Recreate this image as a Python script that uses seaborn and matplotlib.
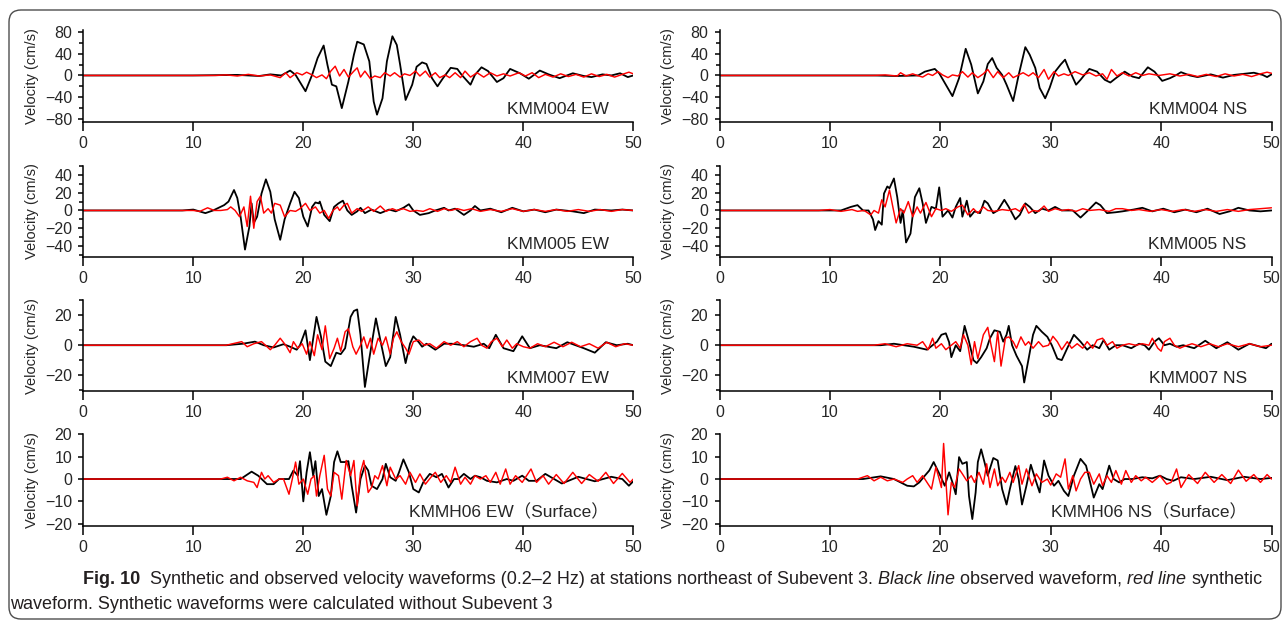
import numpy as np
import pandas as pd
import matplotlib
matplotlib.use("Agg")
import matplotlib.pyplot as plt
import seaborn as sns
from matplotlib.patches import FancyBboxPatch
from matplotlib.ticker import MultipleLocator
from matplotlib.transforms import IdentityTransform

sns.set_style("ticks")
plt.rcParams['font.family'] = ['Liberation Sans', 'Noto Sans CJK JP', 'DejaVu Sans']
plt.rcParams['axes.unicode_minus'] = True

# ---- waveforms: (time [s], velocity [cm/s]) ----
obs_004_ew = [(0, 0), (10, 0), (14, 1), (16, -1), (17, 2), (18, 0), (18.8, 9), (19.3, 1), (20.2, -29), (20.8, 1),
              (21.3, 32), (21.85, 55), (22.2, 19), (22.6, -17), (23.0, -20), (23.5, -60), (24.1, -11), (24.6, 38),
              (24.9, 62), (25.5, 57), (26.0, 26), (26.4, -48), (26.7, -72), (27.2, -42), (27.6, 26), (28.1, 72),
              (28.5, 56), (28.8, 20), (29.3, -45), (29.9, -17), (30.3, 16), (30.8, 24), (31.2, 21), (31.7, -5),
              (32.2, -20), (32.7, -5), (33.4, 14), (34.0, 12), (34.4, 1), (35.2, -17), (35.6, 1), (36.2, 15),
              (36.8, 8), (37.6, -12), (38.2, -5), (38.8, 12), (39.7, 4), (40.5, -6), (41.5, 9), (42.3, 2),
              (43.3, -5), (44.5, 4), (45.5, -1), (46.2, -3), (47.2, 2), (48, 0), (48.8, 4), (49.5, -3), (50, 0)]
syn_004_ew = [(0, 0), (12, 0), (13, 1), (14, -1), (15, 2), (16, -1), (17, 1), (17.9, -4), (18.4, 5), (18.8, -4),
              (19.4, 5), (19.9, 1), (20.3, 6), (20.8, 1), (21.2, -4), (21.7, 1), (22.1, -6), (22.5, 8), (22.9, 17),
              (23.3, -1), (23.7, 11), (24.1, -3), (24.6, 8), (24.9, 14), (25.2, -3), (25.6, 8), (26.1, -6),
              (26.5, -1), (27.0, -4), (27.4, 5), (27.9, -1), (28.3, 5), (28.8, -3), (29.2, 3), (29.7, 0), (30.2, 8),
              (30.6, -1), (31.1, 8), (31.5, -3), (32.0, 5), (32.4, -4), (32.9, 1), (33.3, -4), (33.8, 5), (34.3, -4),
              (34.7, 8), (35.2, -3), (35.8, 5), (36.4, -3), (37.0, 5), (37.6, -1), (38.2, 3), (38.8, -1), (39.6, 5),
              (40.2, -1), (40.8, 5), (41.4, -4), (42.0, 2), (42.7, -3), (43.4, 3), (44.1, -2), (44.8, 2), (45.5, -3),
              (46.2, 3), (46.9, -2), (47.6, 2), (48.3, -3), (49.0, 2), (49.6, 6), (50, 3)]

obs_004_ns = [(0, 0), (14, 0), (16, -1), (18, 0), (18.6, 7), (19.5, 12), (19.9, 4), (20.5, -17), (21.1, -38),
              (21.7, -5), (22.3, 49), (22.8, 20), (23.4, -33), (23.9, -11), (24.3, 21), (24.7, 32), (25.1, 14),
              (25.6, 1), (26.0, -17), (26.6, -47), (27.1, 1), (27.7, 52), (28.1, 38), (28.6, 14), (29.0, -23),
              (29.5, -42), (29.9, -23), (30.4, 7), (30.9, 20), (31.3, 29), (31.6, 14), (32.3, -17), (32.7, -8),
              (33.5, 12), (34.2, 7), (34.9, -8), (35.4, -13), (35.9, -5), (36.7, 7), (37.4, -2), (38.0, -5),
              (38.8, 15), (39.4, 7), (40.1, -10), (40.8, -5), (41.4, 1), (41.8, 6), (42.6, 0), (43.3, -3),
              (44.5, 2), (45.6, -4), (46.6, 1), (47.5, 3), (48.4, 5), (49.2, 1), (49.6, -3), (50, 2)]
syn_004_ns = [(0, 0), (14, 0), (15, 1), (16.1, -1), (16.4, 5), (16.9, -1), (17.5, 3), (17.9, 0), (18.4, -3),
              (18.9, 3), (19.3, 0), (19.8, 7), (20.2, 1), (20.7, -4), (21.1, 1), (21.6, -1), (22.0, 7), (22.5, -3),
              (22.9, 5), (23.4, -4), (23.9, 3), (24.3, 11), (24.8, -4), (25.2, 7), (25.7, -4), (26.2, 5), (26.6, -4),
              (27.1, 1), (27.5, 5), (28.0, -1), (28.4, 5), (28.9, -4), (29.4, 11), (29.8, -7), (30.3, 7), (30.7, -1),
              (31.2, 3), (31.6, 0), (32.2, 7), (32.9, 1), (33.5, 5), (34.1, -1), (34.7, 3), (35.1, -7), (35.5, 11),
              (36.0, -1), (36.5, 5), (37.1, -1), (37.7, 5), (38.3, 0), (38.9, 3), (39.8, 0), (40.8, 3), (41.7, -1),
              (42.5, 2), (43.3, -2), (44.1, 2), (45.0, -2), (45.8, 3), (46.6, -1), (47.4, 2), (48.2, -2), (49.0, 3),
              (49.6, 6), (50, 4)]

obs_005_ew = [(0, 0), (9, 0), (10, 1), (11.1, -3), (11.8, 0), (12.8, 6), (13.2, 10), (13.7, 23), (14.0, 14),
              (14.3, -7), (14.7, -44), (15.1, -18), (15.3, 8), (15.5, -14), (15.8, -7), (16.2, 19), (16.6, 35),
              (17.0, 21), (17.4, -10), (17.9, -33), (18.3, -10), (18.8, 8), (19.2, 21), (19.6, 14), (20.0, -7),
              (20.4, -18), (20.8, 4), (21.1, 9), (21.4, 8), (21.5, 10), (21.9, -5), (22.4, -12), (22.8, 4),
              (23.2, 8), (23.6, 11), (24.0, 0), (24.4, -5), (24.9, -1), (25.2, 3), (25.6, -3), (26.2, 1), (27.0, -3),
              (27.8, 1), (28.4, -1), (29.1, 3), (29.6, 7), (30.0, 0), (30.6, -5), (31.4, -3), (32.0, 0), (32.8, 3),
              (33.2, 0), (33.8, 2), (34.6, -5), (35.2, 0), (35.6, 5), (36.1, 0), (37, 2), (38, -2), (39, 3),
              (40, -1), (41, 1), (42, -2), (43, 1), (44.5, -1), (45.5, -3), (46.5, 1), (48, 0), (49, 1), (50, 0)]
syn_005_ew = [(0, 0), (10, 0), (10.6, -1), (11.3, 3), (11.9, 0), (12.5, 0), (13.1, 1), (13.4, 4), (13.8, 0),
              (14.2, -7), (14.6, 4), (14.9, -18), (15.2, 16), (15.5, -20), (15.8, 10), (16.1, 16), (16.4, -3),
              (16.8, 2), (17.1, -3), (17.4, 8), (17.9, 6), (18.3, -7), (18.8, 0), (19.3, -1), (19.7, 2), (20.2, 8),
              (20.6, 0), (21.1, 4), (21.5, -3), (21.9, 0), (22.3, -9), (22.7, 0), (23.1, 4), (23.3, 0), (23.7, 6),
              (24.0, 8), (24.4, -3), (24.9, 2), (25.3, -1), (25.9, 4), (26.4, -1), (27.0, 5), (27.5, -1), (28.1, 2),
              (28.5, 0), (29.1, 2), (29.7, -1), (30.3, 0), (30.9, -1), (31.5, 2), (32.2, -1), (32.8, 2), (33.4, 0),
              (34.0, 2), (34.6, 0), (35.3, 2), (36.1, -1), (37, 1), (38, -1), (39, 2), (40, -1), (41, 1), (42, -1),
              (43, 1), (44, -1), (45, 1), (46, -1), (47, 1), (48, -1), (49, 1), (50, 0)]

obs_005_ns = [(0, 0), (9, 0), (11, 0), (11.9, 4), (12.5, 6), (13.0, 0), (13.5, 0), (13.9, -10), (14.1, -22),
              (14.4, -12), (14.7, -16), (14.9, 19), (15.2, 27), (15.4, 25), (15.8, 36), (16.1, 15), (16.4, -14),
              (16.6, 0), (16.9, -36), (17.3, -26), (17.7, 15), (18.1, 25), (18.4, 8), (18.7, -14), (19.2, 4),
              (19.6, 2), (19.9, 26), (20.2, -7), (20.7, 0), (21.1, -8), (21.4, 4), (21.8, 14), (22.0, -7),
              (22.4, 11), (22.7, -7), (23.1, -1), (23.6, -3), (24.0, 11), (24.3, 8), (24.8, -3), (25.2, 0),
              (25.8, 12), (26.2, 4), (26.8, -10), (27.2, -5), (27.7, 8), (28.1, 4), (28.6, -3), (29.2, 2), (29.8, 0),
              (30.4, 4), (31.0, 0), (32.0, 0), (32.7, -8), (33.3, -1), (34.1, 9), (34.5, 6), (35.1, -3), (35.9, -2),
              (36.5, -1), (37.5, 1), (38.3, 3), (39.2, -1), (40.2, 2), (41.2, -2), (42.2, 1), (43.2, -2), (44.2, 2),
              (45.3, -4), (46.2, -1), (47, 3), (48, 0), (49, -1), (50, 0)]
syn_005_ns = [(0, 0), (9, 0), (10, 1), (11, -1), (12, 1), (12.5, -1), (13.1, 0), (13.7, -5), (14.0, 0), (14.4, -3),
              (14.7, 12), (15.0, 4), (15.4, 23), (15.7, 4), (16.0, -14), (16.4, 2), (16.7, -3), (17.1, 10),
              (17.5, -7), (17.9, 4), (18.2, -3), (18.7, 9), (19.2, -7), (19.6, 2), (20.1, 0), (20.5, 2), (21.0, -1),
              (21.6, 4), (22.0, 6), (22.5, -5), (23.0, 2), (23.4, -3), (23.9, 4), (24.3, 0), (24.9, -1), (25.6, 1),
              (26.2, 0), (26.8, 2), (27.2, -1), (27.6, 7), (28.0, -3), (28.4, 0), (28.9, -1), (29.4, 5), (29.8, -1),
              (30.4, 2), (31.0, 0), (31.6, 1), (32.3, -1), (32.9, 2), (33.5, 0), (34.4, 1), (35.3, -1), (35.9, 2),
              (36.5, 2), (37.3, 0), (38, 1), (39, -1), (40, 1), (41, -1), (42, 1), (43, -1), (44, 1), (45, -1),
              (46, 1), (47, -1), (48, 1), (49, 2), (50, 3)]

obs_007_ew = [(0, 0), (13, 0), (14.5, 1), (15.6, 2.4), (16.4, 0), (17.3, -1.5), (18.2, 0.7), (18.8, -1), (19.4, -3),
              (19.7, 0), (20.2, 10), (20.6, -10), (21.2, 19), (21.6, 6), (22.0, -11), (22.5, -14), (23.0, -5),
              (23.4, -6), (23.8, -2), (24.3, 19), (24.6, 23), (24.9, 24), (25.2, 7), (25.6, -28), (26.0, -9),
              (26.6, 18), (27.1, 0), (27.5, -14), (27.9, -8), (28.4, 19), (28.8, 7), (29.3, -12), (29.7, 1),
              (30.0, 6), (30.5, 2), (30.8, -1), (31.2, 1), (32.0, -3), (32.8, 1), (33.5, 1), (34.6, 0), (35.5, -1),
              (36.4, 1), (36.9, -2), (37.5, 7), (38.2, -2), (39.1, -4), (39.9, 6), (40.6, -2), (41.5, 0), (43, -2),
              (44, 2), (45.5, -2), (46.5, -5), (47.5, 2), (48.5, 0), (49.5, 1), (50, 0)]
syn_007_ew = [(0, 0), (13, 0), (14.4, 2.4), (14.9, -1), (15.5, 1), (16.2, 2.4), (17.0, -3), (17.4, 0), (17.9, 4.7),
              (18.4, 0), (18.8, -5), (19.1, 2.4), (19.5, -2), (19.9, 1), (20.3, -6), (20.6, 2.4), (21.0, -7),
              (21.3, 7), (21.7, -3), (22.0, 13), (22.4, -9), (22.8, -2), (23.1, 4.7), (23.4, -4), (23.8, 9),
              (24.1, 11), (24.5, -1), (24.8, -6), (25.2, 0), (25.5, 5.6), (25.8, -2), (26.1, 4.7), (26.4, -6),
              (26.8, 4.7), (27.2, 0), (27.5, 5.6), (27.9, -6), (28.2, 4.7), (28.5, 9), (28.9, 2.4), (29.3, -2),
              (29.6, -6), (30.0, 2.4), (30.5, 3.5), (31.0, 0), (31.5, 1), (32.1, -2), (32.8, 2.4), (33.4, 0),
              (34.0, 2.4), (34.6, -1), (35.2, 2.4), (35.8, 4.7), (36.2, 0), (36.7, -2), (37.1, 2.4), (37.6, 4.7),
              (38.1, -1), (38.5, 3.5), (39.0, -2), (39.4, 1), (40.0, -1), (40.6, -2), (41.3, 1), (42, -1),
              (42.8, 2), (43.6, -1), (44.4, 2), (45.2, -1), (46, 1), (46.8, -2), (47.6, 2), (48.4, -1), (49.2, 1),
              (50, 0)]

obs_007_ns = [(0, 0), (14.6, 0), (15.8, 1), (17.6, -1), (18.8, -3), (19.7, 2.4), (20.1, 7), (20.5, 8), (20.8, 2),
              (21.0, -8), (21.4, 0), (21.8, -4), (22.2, 13), (22.6, 2.4), (23.0, -10), (23.3, -12), (23.7, -8),
              (24.2, -2), (24.5, 4.7), (24.9, 10), (25.4, 9), (25.7, 2.4), (26.0, 7), (26.2, 13), (26.5, 0),
              (26.9, -7), (27.4, -14), (27.6, -25), (28.0, -9), (28.4, 7), (28.7, 13), (29.2, 9), (29.7, 5.6),
              (30.1, 0), (30.6, -9), (31.0, -10), (31.5, -2), (32.1, 7), (32.7, 2.4), (33.3, -3), (33.8, 0),
              (34.4, -2), (34.8, 3.5), (35.3, -3), (35.9, 0), (36.5, 0), (37.3, -2), (38.0, 1), (38.5, 0),
              (38.9, -3), (39.4, 2.4), (39.8, 4.7), (40.3, 0), (40.8, 1), (41.4, -1), (42.0, 0), (43, -2), (44, 3),
              (45, -2), (46, 2), (47, -3), (48, 1), (49.5, -2), (50, 1)]
syn_007_ns = [(0, 0), (14, 0), (15, 1), (16, -1), (17, 1), (17.9, 0), (18.4, 2.4), (18.9, -3), (19.3, 4.7),
              (19.6, -2), (20.1, 1), (20.5, -3), (21.0, 0), (21.4, 2.4), (21.8, -2), (22.1, 7), (22.5, 0),
              (22.8, -13), (23.1, 2.4), (23.4, -9), (23.9, 7), (24.3, 12), (24.6, 0), (24.9, -11), (25.2, 9),
              (25.5, -14), (25.9, 4.7), (26.2, 5.6), (26.6, 2.4), (26.9, -2), (27.3, 5.6), (27.7, 0), (28.0, 2.4),
              (28.4, -2), (28.9, 2.4), (29.3, -1), (29.8, 0), (30.2, 6), (30.6, 2.4), (31.0, -3), (31.5, 2.4),
              (31.9, -2), (32.4, 1), (32.9, -2), (33.3, 2.4), (33.8, -2), (34.2, 3.5), (34.7, 4.7), (35.1, 0),
              (35.6, 2.4), (36.0, -2), (36.5, 0), (37.1, 1), (37.7, 0), (38.3, 1), (38.9, 0), (39.2, 4.7),
              (39.7, -2), (40.0, -4), (40.3, 2.4), (40.8, 4.7), (41.2, 0), (41.7, -2), (42.0, -1), (42.8, 1),
              (43.6, -1), (44.4, 1), (45.2, -1), (46, 1), (47, -1), (48, 1), (49, -1), (50, 0)]

obs_h06_ew = [(0, 0), (12, 0), (14.3, 0), (15.3, 3.3), (15.9, 1.5), (16.7, -2.3), (17.3, -2.3), (17.8, 0),
              (18.7, 0), (19.1, 3.8), (19.5, 1.5), (19.7, 8), (20.0, -10), (20.3, 3), (20.6, 12), (20.9, 1.5),
              (21.1, 8), (21.4, -7.6), (21.7, -4.5), (22.1, -16), (22.5, -7.6), (22.8, 7.6), (23.1, 12.4),
              (23.4, 7.6), (23.8, 7.6), (24.1, 8), (24.4, -3), (24.8, -15), (25.2, 0), (25.6, 6), (25.9, 3.8),
              (26.2, -3), (26.7, -4.5), (27.2, 0), (27.5, 6.8), (27.9, 0.8), (28.4, -0.8), (28.7, 3), (29.1, 8.8),
              (29.6, 3), (30.0, -4.5), (30.5, -6), (30.9, -1.5), (31.5, 2.3), (32.1, 0.8), (32.6, 2.3), (33.2, -3.8),
              (33.7, 0), (34.1, 0), (34.6, 2.3), (35.2, 0), (35.6, 1.5), (36.1, 0.8), (36.7, -0.8), (37.6, -1.5),
              (38.5, 0), (39.1, -0.8), (39.9, 1.5), (40.5, -0.8), (41.2, -0.8), (42.0, 2.3), (43.5, -2), (45, 1),
              (46.5, -1), (48, 1), (49, 0), (49.6, -3), (50, -1)]
syn_h06_ew = [(0, 0), (12.5, 0), (13.1, 0.8), (13.7, -0.8), (14.3, 0.8), (14.9, -0.8), (15.5, -1.5), (15.8, -3.8),
              (16.2, 3), (16.5, 0), (16.8, 1.5), (17.3, -1.5), (17.8, 0), (18.2, 0), (18.7, -6.8), (19.0, 0),
              (19.3, 7.6), (19.6, -2.3), (20.0, 0), (20.4, -6.8), (20.7, 0), (21.0, 1.5), (21.2, -7.6), (21.5, 1.5),
              (21.9, 10.6), (22.2, -4.5), (22.5, -7.6), (22.8, 3), (23.2, 1.5), (23.5, -9), (23.9, 8.3), (24.3, 1.5),
              (24.6, 8.3), (24.9, -12), (25.2, 3), (25.5, 8.3), (25.9, -6), (26.2, -3.8), (26.5, 1.5), (26.8, 0),
              (27.2, 6), (27.6, -3), (27.9, 5.3), (28.4, 0), (28.8, 1.5), (29.3, -2.3), (29.7, 3), (30.2, -1.5),
              (30.6, 2.3), (31.1, -2.3), (31.6, 0.8), (32.0, 3), (32.5, -1.5), (33.0, 1.5), (33.4, -1.5), (33.8, 5.3),
              (34.3, -2.3), (34.7, 0.8), (35.2, -2.3), (35.6, 1.5), (36.1, 0), (36.6, 1.5), (37.0, -1.5), (37.5, 3),
              (37.9, -2.3), (38.4, 4.5), (38.8, -2.3), (39.3, 1.5), (39.9, -1.5), (40.7, 4.5), (41.2, -1.5),
              (41.8, 1.5), (42.3, -2.3), (43, 2), (43.7, -2), (44.5, 3), (45.3, -2), (46, 2), (46.8, -1), (47.5, 3),
              (48.2, -2), (49, 2.5), (49.7, -1.5), (50, 0)]

obs_h06_ns = [(0, 0), (13, 0), (14.6, 1.2), (15.8, 0), (17.0, -3), (17.6, -3.3), (18.1, -1.5), (18.6, 1.5),
              (19.0, 3.8), (19.4, 7.6), (19.7, 4.5), (20.0, 1.5), (20.4, -3), (20.8, 3), (21.1, -1.5), (21.4, -6.8),
              (21.7, 9.8), (22.0, 6.8), (22.4, 7.6), (22.6, -7.6), (22.9, -17.9), (23.2, -6), (23.4, 7.6),
              (23.7, 13.3), (24.0, 7.6), (24.3, 1.5), (24.8, 9.4), (25.2, 8.3), (25.6, -4.5), (26.0, -11.4),
              (26.3, -4.5), (26.8, 5.8), (27.1, 0), (27.4, -11.4), (27.8, -3), (28.2, 6.4), (28.6, 0), (29.0, -6),
              (29.4, 8.3), (29.8, 1.5), (30.3, -3), (30.7, -0.8), (31.2, -5.3), (31.6, -7.6), (32.1, 1.5), (32.7, 9),
              (33.2, 6), (33.5, 0), (33.9, -8.3), (34.4, -2.3), (34.7, -4.5), (35.3, 6), (35.7, 0), (36.2, -1.5),
              (36.7, 0), (37.4, 0), (38.3, 0.8), (39.2, 0.3), (39.9, 1.5), (40.5, 0), (41.1, -0.8), (41.8, 0.8),
              (43, 0), (44.5, 1), (46, -0.5), (47.5, 1), (49, 0), (50, 0.5)]
syn_h06_ns = [(0, 0), (12.5, 0), (13.4, 1.5), (14.0, -0.8), (14.6, 0.8), (15.2, -0.8), (15.8, 0), (16.6, -1.5),
              (17.0, 0), (17.5, 1.5), (17.9, -1.5), (18.4, 1.5), (18.9, -2.3), (19.2, -4.5), (19.6, 5.3), (19.9, 0),
              (20.1, -3.8), (20.3, 15.9), (20.7, -16), (21.0, -1.5), (21.3, -3.8), (21.7, 4.5), (22.0, 2.3),
              (22.4, -0.8), (22.8, 1.5), (23.1, -1.5), (23.5, 3), (23.9, -2.3), (24.2, 6.8), (24.5, -3.8), (24.9, 4.5),
              (25.2, -3), (25.6, 0.8), (25.9, -1.5), (26.3, 3), (26.6, -1.5), (27.1, 6), (27.4, -2.3), (27.8, 4.5),
              (28.3, -3), (28.7, 2.3), (29.2, -1.5), (29.7, 0), (30.0, -2.7), (30.5, 2.3), (30.9, 0.8), (31.3, 9),
              (31.6, -4.5), (32.0, 1.5), (32.3, -5.3), (32.7, 0), (33.1, 3), (33.5, 3), (33.9, -2.3), (34.4, 2.3),
              (34.7, -3), (35.1, 1.5), (35.5, -1.5), (35.9, 3.8), (36.4, -2.3), (36.8, 3.8), (37.3, -1.5), (37.7, 1.5),
              (38.2, -0.8), (38.6, 0.8), (39.2, -1.5), (39.9, 1.5), (40.5, -2.3), (40.9, -1.5), (41.4, 4.5),
              (41.8, -3.8), (42.5, 2), (43.3, -2), (44, 3), (44.8, -1.5), (45.5, 2), (46.3, -2), (47, 4), (47.7, -1),
              (48.4, 2), (49, -1.5), (49.6, 2), (50, 0)]

stations = ["KMM004 EW", "KMM004 NS", "KMM005 EW", "KMM005 NS",
            "KMM007 EW", "KMM007 NS", "KMMH06 EW（Surface）", "KMMH06 NS（Surface）"]
observed = [obs_004_ew, obs_004_ns, obs_005_ew, obs_005_ns, obs_007_ew, obs_007_ns, obs_h06_ew, obs_h06_ns]
synthetic = [syn_004_ew, syn_004_ns, syn_005_ew, syn_005_ns, syn_007_ew, syn_007_ns, syn_h06_ew, syn_h06_ns]

# ---- layout (pixels of a 1285 x 621 figure) ----
W, H = 1285, 621
cols = [(83.3, 633.3), (719.5, 1271.5)]
rows = [(30, 122), (166, 256.7), (300.5, 390.7), (434.3, 526)]
ylims = [(-85.5, 83.5), (-52, 50), (-30.5, 30), (-21, 20)]
ymajor = [40, 20, 20, 10]
yminor = [20, 10, 10, None]

fig = plt.figure(figsize=(W / 100, H / 100), dpi=100)

for i in range(8):
    r, c = divmod(i, 2)
    x0, x1 = cols[c]
    top, bot = rows[r]
    ax = fig.add_axes([x0 / W, 1 - bot / H, (x1 - x0) / W, (bot - top) / H])
    obs = pd.DataFrame(observed[i], columns=["time", "vel"])
    syn = pd.DataFrame(synthetic[i], columns=["time", "vel"])
    sns.lineplot(data=obs, x="time", y="vel", ax=ax, color="black", lw=1.3, estimator=None, sort=False,
                 solid_joinstyle="round")
    sns.lineplot(data=syn, x="time", y="vel", ax=ax, color="#ff0000", lw=1.05, estimator=None, sort=False,
                 solid_joinstyle="round")
    ax.set_xlim(0, 50)
    ax.set_ylim(*ylims[r])
    ax.xaxis.set_major_locator(MultipleLocator(10))
    ax.yaxis.set_major_locator(MultipleLocator(ymajor[r]))
    if yminor[r]:
        ax.yaxis.set_minor_locator(MultipleLocator(yminor[r]))
    sns.despine(ax=ax)
    for s in ["left", "bottom"]:
        ax.spines[s].set_linewidth(1.1)
        ax.spines[s].set_color("black")
    ax.tick_params(axis="y", which="major", length=3.6, width=1.1, labelsize=11.5, pad=4.5, color="black")
    ax.tick_params(axis="y", which="minor", length=3.0, width=1.1, color="black")
    ax.tick_params(axis="x", which="major", length=6.5, width=1.1, labelsize=11.5, pad=3.5, color="black")
    ax.set_xlabel("")
    ax.set_ylabel("Velocity (cm/s)", fontsize=10.5)
    ax.yaxis.set_label_coords((39 - 83.3) / (x1 - x0), 0.5)
    ax.text(0.955, 0.09, stations[i], transform=ax.transAxes, ha="right", va="baseline", fontsize=12.5)

# ---- caption ----
cap_family = ["Liberation Sans Narrow", "Liberation Sans", "DejaVu Sans"]
line1 = [("Fig. 10", "normal", "bold", 2),
         ("Synthetic and observed velocity waveforms (0.2–2 Hz) at stations northeast of Subevent 3.", "normal", "normal", 1),
         ("Black line", "italic", "normal", 1),
         ("observed waveform,", "normal", "normal", 1),
         ("red line", "italic", "normal", 1),
         ("synthetic", "normal", "normal", 0)]
line2 = [("waveform. Synthetic waveforms were calculated without Subevent 3", "normal", "normal", 0)]

renderer = fig.canvas.get_renderer()


def put_runs(x, y, runs, size, keep=True):
    items = []
    probe_a = fig.text(0, 0, "n n", fontsize=size, family=cap_family)
    probe_b = fig.text(0, 0, "nn", fontsize=size, family=cap_family)
    space = probe_a.get_window_extent(renderer).width - probe_b.get_window_extent(renderer).width
    probe_a.remove()
    probe_b.remove()
    cx = x
    for txt, style, weight, nsp in runs:
        t = fig.text(cx / W, 1 - y / H, txt, fontsize=size, family=cap_family, style=style,
                     weight=weight, ha="left", va="baseline", color="#231f20")
        cx += t.get_window_extent(renderer).width + nsp * space
        items.append(t)
    if not keep:
        for t in items:
            t.remove()
    return cx - x


w_test = put_runs(83, 584, line1, 12, keep=False)
cap_size = 12 * (1265 - 83) / w_test
put_runs(83, 584, line1, cap_size)
put_runs(10, 609, line2, cap_size)

# ---- rounded frame ----
frame = FancyBboxPatch((9, H - 619), 1281 - 9, 619 - 10, boxstyle="round,pad=0,rounding_size=12",
                       transform=IdentityTransform(), fill=False, ec="#4d4d4d", lw=1.0)
fig.patches.append(frame)

fig.savefig("out.png", dpi=100)
